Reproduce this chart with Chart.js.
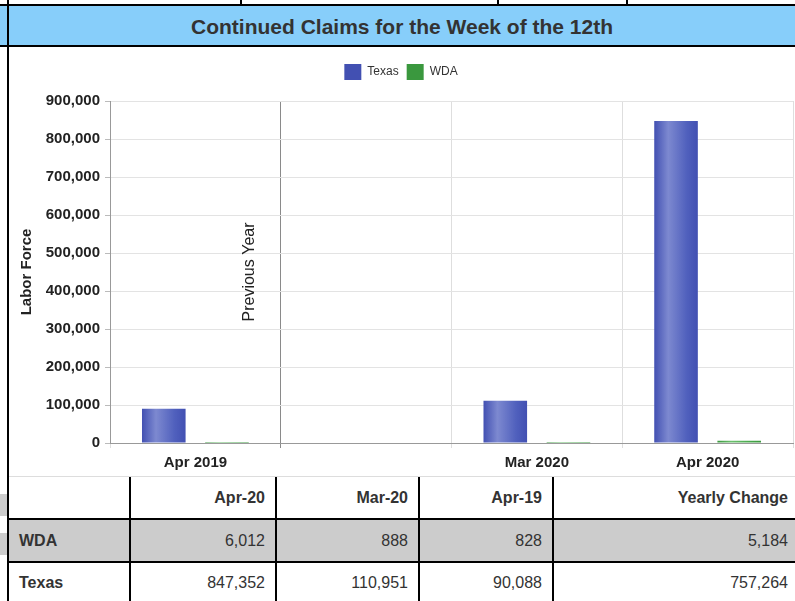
<!DOCTYPE html>
<html>
<head>
<meta charset="utf-8">
<script src="https://cdn.jsdelivr.net/npm/chart.js@4.4.1/dist/chart.umd.min.js"></script>
<style>
  body { margin: 0; width: 795px; height: 601px; overflow: hidden; background: #fff; position: relative;
         font-family: "Liberation Sans", Arial, sans-serif; }
  .box { position: absolute; }
  #titlebar { left: 0; top: 4px; width: 795px; height: 43px; box-sizing: border-box;
              border-top: 2px solid #000; border-bottom: 2px solid #000; background: #87cefa; }
  #title { position: absolute; left: 9px; right: 0; top: 1px; height: 39px; line-height: 39px; text-align: center;
           font-weight: bold; font-size: 21px; color: #333; }
  #chartBox { left: 9px; top: 47px; width: 786px; height: 429px; }
  .cell { position: absolute; font-size: 16px; color: #333; line-height: 20px; white-space: nowrap; }
</style>
</head>
<body>
<div id="titlebar" class="box"><div id="title">Continued Claims for the Week of the 12th</div></div>
<div id="chartBox" class="box"><canvas id="claimsChart" width="786" height="429"></canvas></div>
<script>
// chart data
const categories = ["Apr 2019", "", "Mar 2020", "Apr 2020"];
const seriesNames = ["Texas", "WDA"];
const texasValues = [90088, null, 110951, 847352];
const wdaValues = [828, null, 888, 6012];
const yAxisTitle = "Labor Force";
const dividerLabel = "Previous Year";

// table data
const tableHeaders = ["Apr-20", "Mar-20", "Apr-19", "Yearly Change"];
const tableRowNames = ["WDA", "Texas"];
const wdaTable = [6012, 888, 828, 5184];
const texasTable = [847352, 110951, 90088, 757264];

const catPct = 0.74;
const barPct = 0.69;
const fontFamily = '"Liberation Sans", Arial, sans-serif';
Chart.defaults.font.family = fontFamily;

// horizontal gradient across each bar, solid colour for the legend
function barShade(base, dark, light, mid) {
  return function (ctx) {
    if (ctx.type !== "data") return base;
    const chart = ctx.chart;
    const x = chart.scales.x;
    if (!x || !(x.width > 0)) return mid;
    const slot = (x.width / categories.length) * catPct / 2;
    const c = x.getPixelForValue(ctx.dataIndex) + (ctx.datasetIndex === 0 ? -slot / 2 : slot / 2);
    const half = slot * barPct / 2;
    if (!isFinite(c) || !isFinite(half)) return mid;
    const g = chart.ctx.createLinearGradient(c - half, 0, c + half, 0);
    g.addColorStop(0, dark);
    g.addColorStop(0.32, light);
    g.addColorStop(0.75, mid);
    g.addColorStop(1, dark);
    return g;
  };
}

// extra room under the legend
const legendGap = {
  id: "legendGap",
  beforeLayout(chart) {
    const lg = chart.legend;
    if (lg && !lg._gapPatched) {
      const fit = lg.fit;
      lg.fit = function () { fit.call(this); this.height += 11; };
      lg._gapPatched = true;
    }
  }
};

// "Previous Year" text beside the separator line
const dividerText = {
  id: "dividerText",
  afterDatasetsDraw(chart) {
    const x = chart.scales.x, y = chart.scales.y, c = chart.ctx;
    const sep = (x.getPixelForValue(0) + x.getPixelForValue(1)) / 2;
    c.save();
    c.translate(sep - 31, y.getPixelForValue(450000));
    c.rotate(-Math.PI / 2);
    c.font = "16px " + fontFamily;
    c.fillStyle = "#222";
    c.textAlign = "center";
    c.textBaseline = "middle";
    c.fillText(dividerLabel, 0, 0);
    c.restore();
  }
};

const claimsCtx = document.getElementById("claimsChart").getContext("2d");
const claimsChart = new Chart(claimsCtx, {
  type: "bar",
  data: {
    labels: categories,
    datasets: [
      {
        label: seriesNames[0],
        data: texasValues,
        backgroundColor: barShade("#3f51b5", "#4250b2", "#7d89d0", "#5060bd"),
        borderWidth: 0,
      },
      {
        label: seriesNames[1],
        data: wdaValues,
        backgroundColor: barShade("#4caf50", "#3a983e", "#6cc06e", "#48a84c"),
        borderWidth: 0,
        minBarLength: 1,
      },
    ],
  },
  options: {
    responsive: false,
    devicePixelRatio: 1,
    animation: false,
    categoryPercentage: catPct,
    barPercentage: barPct,
    layout: { padding: { top: 9, right: 2, left: 0, bottom: 0 } },
    plugins: {
      legend: {
        position: "top",
        labels: { boxWidth: 17, boxHeight: 16, color: "#333", font: { size: 12 }, padding: 8 },
      },
      tooltip: { enabled: false },
    },
    scales: {
      x: {
        offset: true,
        grid: {
          offset: true,
          color: (c) => (c.index === 1 ? "#8a8a8a" : "#dedede"),
          tickLength: 5,
        },
        border: { color: "#999" },
        ticks: { color: "#222", font: { size: 15, weight: "bold" }, padding: 6, maxRotation: 0, autoSkip: false },
        afterFit(s) { s.height = 33; },
      },
      y: {
        min: 0,
        max: 900000,
        ticks: {
          stepSize: 100000,
          color: "#222",
          font: { size: 15, weight: "bold" },
          padding: 5,
          callback: (v) => v.toLocaleString("en-US"),
        },
        grid: { color: "#e3e3e3", tickLength: 5, tickColor: "#bbb" },
        border: { color: "#999" },
        title: { display: true, text: yAxisTitle, color: "#222", font: { size: 15, weight: "bold" }, padding: { top: 9, bottom: 0 } },
        afterFit(s) { s.width = 101; },
      },
    },
  },
  plugins: [legendGap, dividerText],
});

// table and sheet lines
function addBox(left, top, width, height, bg) {
  const d = document.createElement("div");
  d.className = "box";
  d.style.cssText = `left:${left}px;top:${top}px;width:${width}px;height:${height}px;background:${bg};`;
  document.body.appendChild(d);
  return d;
}
function addText(text, left, width, centerY, align, bold, pad) {
  const d = document.createElement("div");
  d.className = "cell";
  d.textContent = text;
  d.style.left = left + "px";
  d.style.width = width + "px";
  d.style.top = (centerY - 10) + "px";
  d.style.textAlign = align;
  d.style.boxSizing = "border-box";
  if (align === "right") d.style.paddingRight = pad + "px";
  else d.style.paddingLeft = pad + "px";
  if (bold) d.style.fontWeight = "bold";
  document.body.appendChild(d);
}

const colEdges = [9, 130, 276, 419, 553, 795];
const fmt = (v) => v.toLocaleString("en-US");

addBox(9, 476, 786, 1, "#dddddd");
addBox(9, 520, 786, 41, "#cccccc");
addBox(0, 494, 7, 22, "#cccccc");
addBox(0, 533, 7, 22, "#cccccc");
addBox(9, 518, 786, 2, "#000");
addBox(9, 561, 786, 2, "#000");
[129, 275, 418, 552].forEach((x) => addBox(x, 477, 2, 124, "#000"));
addBox(7, 0, 2, 601, "#000");
[240, 497, 626].forEach((x) => addBox(x, 0, 2, 5, "#000"));

tableHeaders.forEach((h, i) => {
  addText(h, colEdges[i + 1], colEdges[i + 2] - colEdges[i + 1], 498, "right", true, i === 3 ? 7 : 11);
});
[wdaTable, texasTable].forEach((row, r) => {
  const cy = r === 0 ? 541 : 583;
  addText(tableRowNames[r], colEdges[0], colEdges[1] - colEdges[0], cy, "left", true, 10);
  row.forEach((v, i) => {
    addText(fmt(v), colEdges[i + 1], colEdges[i + 2] - colEdges[i + 1], cy, "right", false, i === 3 ? 7 : 11);
  });
});
</script>
</body>
</html>
